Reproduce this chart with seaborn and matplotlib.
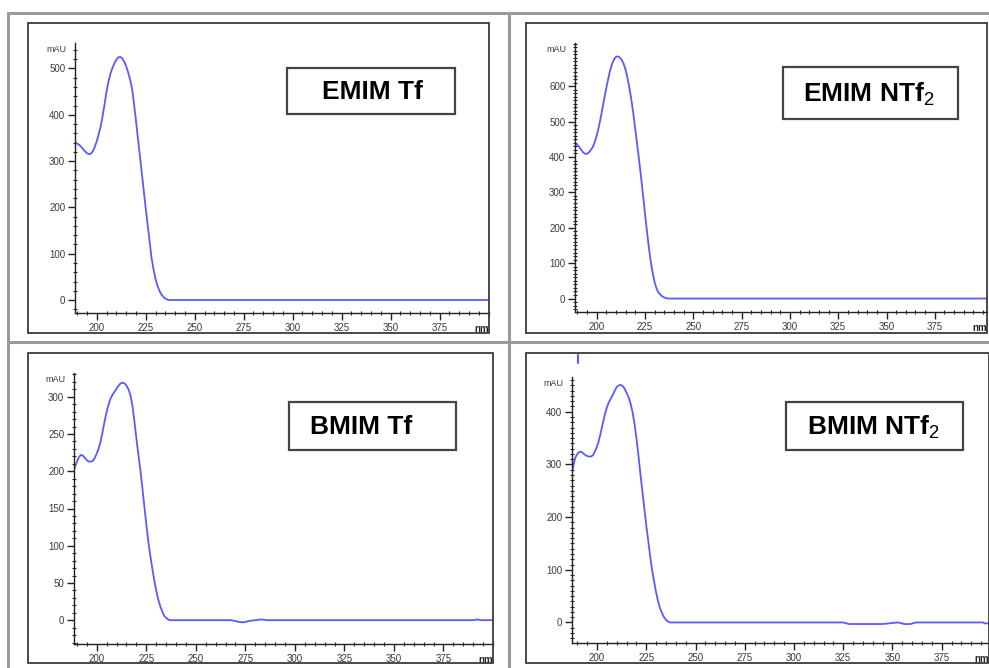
import numpy as np
import pandas as pd
import seaborn as sns
import matplotlib.pyplot as plt
from matplotlib.lines import Line2D
from matplotlib.patches import Rectangle
from matplotlib.ticker import MultipleLocator

# --- data (wavelength nm, absorbance mAU) ---
emim_tf_nm = [189, 190, 191, 192, 193, 194, 195, 196, 197, 198, 199, 200, 201, 202, 203,
              204, 205, 206, 207, 208, 209, 210, 211, 212, 213, 214, 215, 216, 217, 218,
              219, 220, 221, 222, 223, 224, 225, 226, 227, 228, 229, 230, 231, 232, 233,
              234, 235, 236, 237, 240, 300, 401]
emim_tf_mau = [340, 338, 335, 331, 326, 321, 317, 315, 316, 321, 331, 343, 358, 375, 397,
               423, 450, 472, 489, 501, 511, 519, 524, 525, 522, 515, 505, 492, 476, 457,
               425, 388, 350, 312, 274, 236, 198, 162, 126, 90, 66, 46, 31, 20, 12,
               7, 3, 1, 0, 0, 0, 0]

emim_ntf2_nm = [188.5, 189, 190, 191, 192, 193, 194, 195, 196, 197, 198, 199, 200, 201, 202,
                203, 204, 205, 206, 207, 208, 209, 210, 211, 212, 213, 214, 215, 216, 217,
                218, 219, 220, 221, 222, 223, 224, 225, 226, 227, 228, 229, 230, 231, 232,
                233, 234, 235, 236, 237, 240, 300, 403]
emim_ntf2_mau = [440, 438, 434, 428, 420, 413, 409, 409, 413, 420, 428, 442, 460, 482, 508,
                 537, 567, 595, 621, 645, 663, 676, 683, 684, 681, 674, 663, 646, 622, 594,
                 560, 522, 478, 434, 390, 342, 292, 241, 192, 145, 104, 72, 46, 28, 17,
                 11, 6, 3, 1, 0, 0, 0, 0]

bmim_tf_nm = [188.5, 189, 190, 191, 192, 193, 194, 195, 196, 197, 198, 199, 200, 201, 202,
              203, 204, 205, 206, 207, 208, 209, 210, 211, 212, 213, 214, 215, 216, 217,
              218, 219, 220, 221, 222, 223, 224, 225, 226, 227, 228, 229, 230, 231, 232,
              233, 234, 235, 236, 237, 240, 268, 271, 274, 277, 280, 283, 286, 390, 392,
              394, 401]
bmim_tf_mau = [202, 206, 213, 219, 222, 221, 218, 215, 213, 213, 214, 218, 224, 231, 241,
               254, 268, 280, 290, 298, 303, 307, 311, 315, 318, 319, 318, 315, 310, 302,
               288, 267, 244, 222, 202, 178, 153, 129, 106, 87, 70, 54, 40, 28, 19,
               12, 6, 3, 1, 0, 0, 0, -2, -3, -1, 0, 1, 0, 0, 1,
               0, 0]

bmim_ntf2_nm = [187.4, 188, 189, 190, 191, 192, 193, 194, 195, 196, 197, 198, 199, 200, 201,
                202, 203, 204, 205, 206, 207, 208, 209, 210, 211, 212, 213, 214, 215, 216,
                217, 218, 219, 220, 221, 222, 223, 224, 225, 226, 227, 228, 229, 230, 231,
                232, 233, 234, 235, 236, 237, 300, 325, 328, 345, 350, 353, 356, 359, 362,
                396, 397, 400]
bmim_ntf2_mau = [286, 298, 313, 320, 324, 324, 321, 318, 316, 315, 315, 318, 325, 334, 346,
                 362, 379, 395, 408, 418, 425, 432, 440, 447, 450, 451, 449, 444, 436, 428,
                 416, 400, 378, 350, 318, 283, 250, 217, 185, 155, 125, 99, 77, 57, 40,
                 27, 18, 10, 5, 2, 0, 0, 0, -3, -3, -1, 0, -3, -3, 0,
                 0, -2, -1]
# short spike drawn above the top of the BMIM NTf2 axis
bmim_ntf2_spike_nm = [190.5, 190.5]
bmim_ntf2_spike_mau = [492, 507]

labels = ["EMIM Tf", "EMIM NTf$_2$", "BMIM Tf", "BMIM NTf$_2$"]
x_ticks = [200, 225, 250, 275, 300, 325, 350, 375]
y_ticks = [[0, 100, 200, 300, 400, 500],
           [0, 100, 200, 300, 400, 500, 600],
           [0, 50, 100, 150, 200, 250, 300],
           [0, 100, 200, 300, 400]]

sns.set_style("white")
plt.rcParams['font.family'] = ['Liberation Sans', 'DejaVu Sans']
plt.rcParams['mathtext.fontset'] = 'custom'
plt.rcParams['mathtext.rm'] = 'Liberation Sans'

W, H = 989, 668
fig = plt.figure(figsize=(W / 100, H / 100), dpi=100)
fig.patch.set_facecolor('white')


def px_rect(left, top, right, bottom):
    return [left / W, 1 - bottom / H, (right - left) / W, (bottom - top) / H]


# panel settings: axes box (px), xlim, ylim, minor y step, inner frame, label box, text centre
panels = [
    dict(ax=(75, 43, 489, 313), xlim=(188.9, 400.2), ylim=(-28, 555), ymin=20,
         frame=(28, 23, 489, 333), box=(287, 68, 455, 114), tx=372),
    dict(ax=(575, 43, 987, 312), xlim=(188.8, 402), ylim=(-38, 722), ymin=10,
         frame=(526, 23, 987, 333), box=(783, 67, 958, 119), tx=869),
    dict(ax=(74, 373, 493, 644), xlim=(188.5, 400), ylim=(-32, 332), ymin=10,
         frame=(28, 353, 493, 663), box=(289, 402, 456, 450), tx=361),
    dict(ax=(572, 377, 989, 643), xlim=(187.3, 399), ylim=(-39, 466), ymin=10,
         frame=(526, 353, 989, 663), box=(786, 402, 963, 450), tx=874),
]
series = [(emim_tf_nm, emim_tf_mau), (emim_ntf2_nm, emim_ntf2_mau),
          (bmim_tf_nm, bmim_tf_mau), (bmim_ntf2_nm, bmim_ntf2_mau)]

line_color = '#5a5aff'

# outer grey cell borders
grey = '#9a9a9a'
for (x0, y0, x1, y1) in [(8, 13, 989, 13), (8, 342, 989, 342), (8, 13, 8, 668), (509, 13, 509, 668)]:
    fig.add_artist(Line2D([x0 / W, x1 / W], [1 - y0 / H, 1 - y1 / H], color=grey, lw=2.2))

for i, p in enumerate(panels):
    # inner dark frame
    fl, ft, fr, fb = p['frame']
    fig.add_artist(Rectangle((fl / W, 1 - fb / H), (fr - fl) / W, (fb - ft) / H,
                             fill=False, ec='#3a3a3a', lw=1.3, transform=fig.transFigure))

    ax = fig.add_axes(px_rect(*p['ax']))
    ax.set_facecolor('none')
    nm, mau = series[i]
    df = pd.DataFrame({'nm': nm, 'mAU': mau})
    sns.lineplot(data=df, x='nm', y='mAU', ax=ax, color=line_color, lw=1.3, sort=False)
    if i == 3:
        ax.plot(bmim_ntf2_spike_nm, bmim_ntf2_spike_mau, color=line_color, lw=1.5, clip_on=False)

    ax.set_xlim(*p['xlim'])
    ax.set_ylim(*p['ylim'])
    ax.set_xticks(x_ticks)
    ax.set_yticks(y_ticks[i])
    ax.xaxis.set_minor_locator(MultipleLocator(5))
    ax.yaxis.set_minor_locator(MultipleLocator(p['ymin']))
    ax.set_xlabel('')
    ax.set_ylabel('')
    for s in ['top', 'right']:
        ax.spines[s].set_visible(False)
    for s in ['left', 'bottom']:
        ax.spines[s].set_color('#222222')
        ax.spines[s].set_linewidth(1.0)
    ax.tick_params(which='both', bottom=True, left=True, top=False, right=False)
    ax.tick_params(which='major', direction='out', length=5, width=1, color='#222222',
                   labelsize=7, labelcolor='#3a3a3a', pad=2)
    ax.tick_params(which='minor', direction='inout', length=3.5, width=0.8, color='#222222')

    ax.text(-0.02, 0.975, 'mAU', transform=ax.transAxes, ha='right', va='center',
            fontsize=6.5, color='#3a3a3a')
    ax.text(1.0, -0.06, 'nm', transform=ax.transAxes, ha='right', va='center',
            fontsize=7, color='#222222', fontweight='bold')

    # compound label box
    bl, bt, br, bb = p['box']
    fig.add_artist(Rectangle((bl / W, 1 - bb / H), (br - bl) / W, (bb - bt) / H,
                             fill=True, fc='white', ec='#444444', lw=1.6,
                             transform=fig.transFigure, zorder=5))
    fig.text(p['tx'] / W, 1 - ((bt + bb) / 2 + 1) / H, labels[i], ha='center', va='center',
             fontsize=19, fontweight='bold', color='black', zorder=6)

fig.savefig('out.png', dpi=100)
